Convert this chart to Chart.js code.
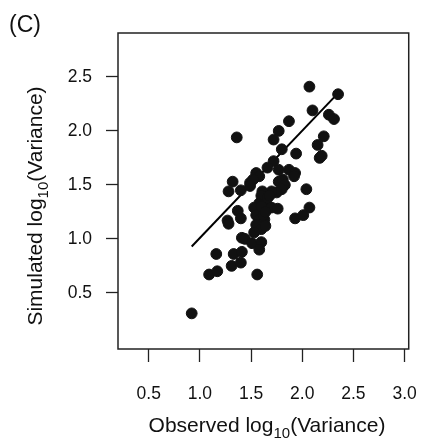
<!DOCTYPE html>
<html>
<head>
<meta charset="utf-8">
<script src="https://cdn.jsdelivr.net/npm/chart.js@4/dist/chart.umd.min.js"></script>
<style>
  html, body { margin: 0; padding: 0; background: #fff; }
  #wrap { width: 439px; height: 446px; position: relative; }
</style>
</head>
<body>
<div id="wrap"><canvas id="chart" width="439" height="446"></canvas></div>
<script>
// observed vs simulated log10 variance, one point per locus
const observed = [
  2.07, 2.35, 2.10, 2.26, 2.31, 1.87, 1.77, 1.72, 1.36, 2.21, 2.15, 1.80, 1.94,
  2.17, 2.19, 1.72, 1.66, 1.77, 1.87, 1.93, 1.92, 1.55, 1.58, 1.49, 1.52, 1.32,
  1.28, 1.40, 1.49, 1.77, 1.81, 1.83, 1.80, 1.75, 1.70, 1.61, 1.60, 2.04, 1.58,
  1.64, 1.67, 1.61, 1.70, 1.76, 2.07, 1.53, 1.55, 1.37, 1.40, 1.93, 2.01, 1.27,
  1.28, 1.58, 1.63, 1.55, 1.60, 1.64, 1.53, 1.41, 1.44, 1.51, 1.60, 1.58, 1.16,
  1.33, 1.41, 1.31, 1.40, 1.09, 1.17, 1.56, 0.92, 1.62, 1.66, 1.60, 1.68, 1.64
];
const simulated = [
  2.41, 2.34, 2.19, 2.15, 2.11, 2.09, 2.00, 1.92, 1.94, 1.95, 1.87, 1.83, 1.79,
  1.75, 1.77, 1.72, 1.66, 1.64, 1.64, 1.61, 1.58, 1.61, 1.58, 1.52, 1.55, 1.53,
  1.44, 1.45, 1.49, 1.53, 1.55, 1.50, 1.46, 1.43, 1.44, 1.44, 1.40, 1.46, 1.33,
  1.33, 1.30, 1.27, 1.29, 1.28, 1.29, 1.29, 1.22, 1.26, 1.19, 1.19, 1.22, 1.17,
  1.14, 1.18, 1.18, 1.13, 1.09, 1.12, 1.06, 1.01, 1.00, 0.96, 0.97, 0.90, 0.86,
  0.86, 0.88, 0.75, 0.78, 0.67, 0.70, 0.67, 0.31, 1.22, 1.38, 1.30, 1.40, 1.25
];
// fitted line end points
const fitX = [0.92, 2.35];
const fitY = [0.93, 2.35];

const xTicks = [0.5, 1.0, 1.5, 2.0, 2.5, 3.0];
const yTicks = [0.5, 1.0, 1.5, 2.0, 2.5];
const xLabel = ['Observed log', '10', '(Variance)'];
const yLabel = ['Simulated log', '10', '(Variance)'];
const panelTag = '(C)';

const FONT = '"Liberation Sans", Arial, Helvetica, sans-serif';
const INK = '#111';

// draw a label with a subscript piece in the middle, centred on cx
function drawSubLabel(ctx, parts, cx, baseY, size) {
  const subSize = Math.round(size * 0.72);
  ctx.font = size + 'px ' + FONT;
  const w0 = ctx.measureText(parts[0]).width;
  const w2 = ctx.measureText(parts[2]).width;
  ctx.font = subSize + 'px ' + FONT;
  const w1 = ctx.measureText(parts[1]).width;
  let x = cx - (w0 + w1 + w2) / 2;
  ctx.textAlign = 'left';
  ctx.textBaseline = 'alphabetic';
  ctx.font = size + 'px ' + FONT;
  ctx.fillText(parts[0], x, baseY);
  x += w0;
  ctx.font = subSize + 'px ' + FONT;
  ctx.fillText(parts[1], x, baseY + size * 0.28);
  x += w1;
  ctx.font = size + 'px ' + FONT;
  ctx.fillText(parts[2], x, baseY);
}

const frameAndTitles = {
  id: 'frameAndTitles',
  afterDraw(chart) {
    const { ctx, chartArea: a } = chart;
    ctx.save();
    ctx.strokeStyle = '#222';
    ctx.lineWidth = 1.5;
    ctx.strokeRect(a.left, a.top, a.right - a.left, a.bottom - a.top);
    ctx.fillStyle = INK;
    drawSubLabel(ctx, xLabel, 267, 432, 21);
    ctx.save();
    ctx.translate(42, 206);
    ctx.rotate(-Math.PI / 2);
    drawSubLabel(ctx, yLabel, 0, 0, 21);
    ctx.restore();
    ctx.font = '23px ' + FONT;
    ctx.textAlign = 'left';
    ctx.textBaseline = 'alphabetic';
    ctx.fillText(panelTag, 9, 32);
    ctx.restore();
  }
};

new Chart(document.getElementById('chart'), {
  data: {
    datasets: [
      {
        type: 'scatter',
        data: observed.map((x, i) => ({ x: x, y: simulated[i] })),
        backgroundColor: INK,
        borderColor: INK,
        borderWidth: 1,
        pointRadius: 5.4,
        order: 0
      },
      {
        type: 'line',
        data: fitX.map((x, i) => ({ x: x, y: fitY[i] })),
        borderColor: '#000',
        borderWidth: 2,
        pointRadius: 0,
        order: 1
      }
    ]
  },
  options: {
    responsive: false,
    animation: false,
    layout: { padding: { top: 33, right: 15, left: 0, bottom: 0 } },
    plugins: { legend: { display: false }, tooltip: { enabled: false } },
    scales: {
      x: {
        type: 'linear',
        min: 0.2,
        max: 3.04,
        afterBuildTicks: s => { s.ticks = xTicks.map(v => ({ value: v })); },
        afterFit: s => { s.height = 97; },
        grid: { drawOnChartArea: false, drawTicks: true, tickLength: 13, tickColor: '#222', tickWidth: 1.3 },
        border: { display: false },
        ticks: {
          padding: 22,
          color: INK,
          font: { family: FONT, size: 17.5 },
          maxRotation: 0,
          callback: v => v.toFixed(1)
        }
      },
      y: {
        type: 'linear',
        min: -0.02,
        max: 2.907,
        afterBuildTicks: s => { s.ticks = yTicks.map(v => ({ value: v })); },
        afterFit: s => { s.width = 118; },
        grid: { drawOnChartArea: false, drawTicks: true, tickLength: 12, tickColor: '#222', tickWidth: 1.3 },
        border: { display: false },
        ticks: {
          padding: 14,
          color: INK,
          font: { family: FONT, size: 17.5 },
          callback: v => v.toFixed(1)
        }
      }
    }
  },
  plugins: [frameAndTitles]
});
</script>
</body>
</html>
